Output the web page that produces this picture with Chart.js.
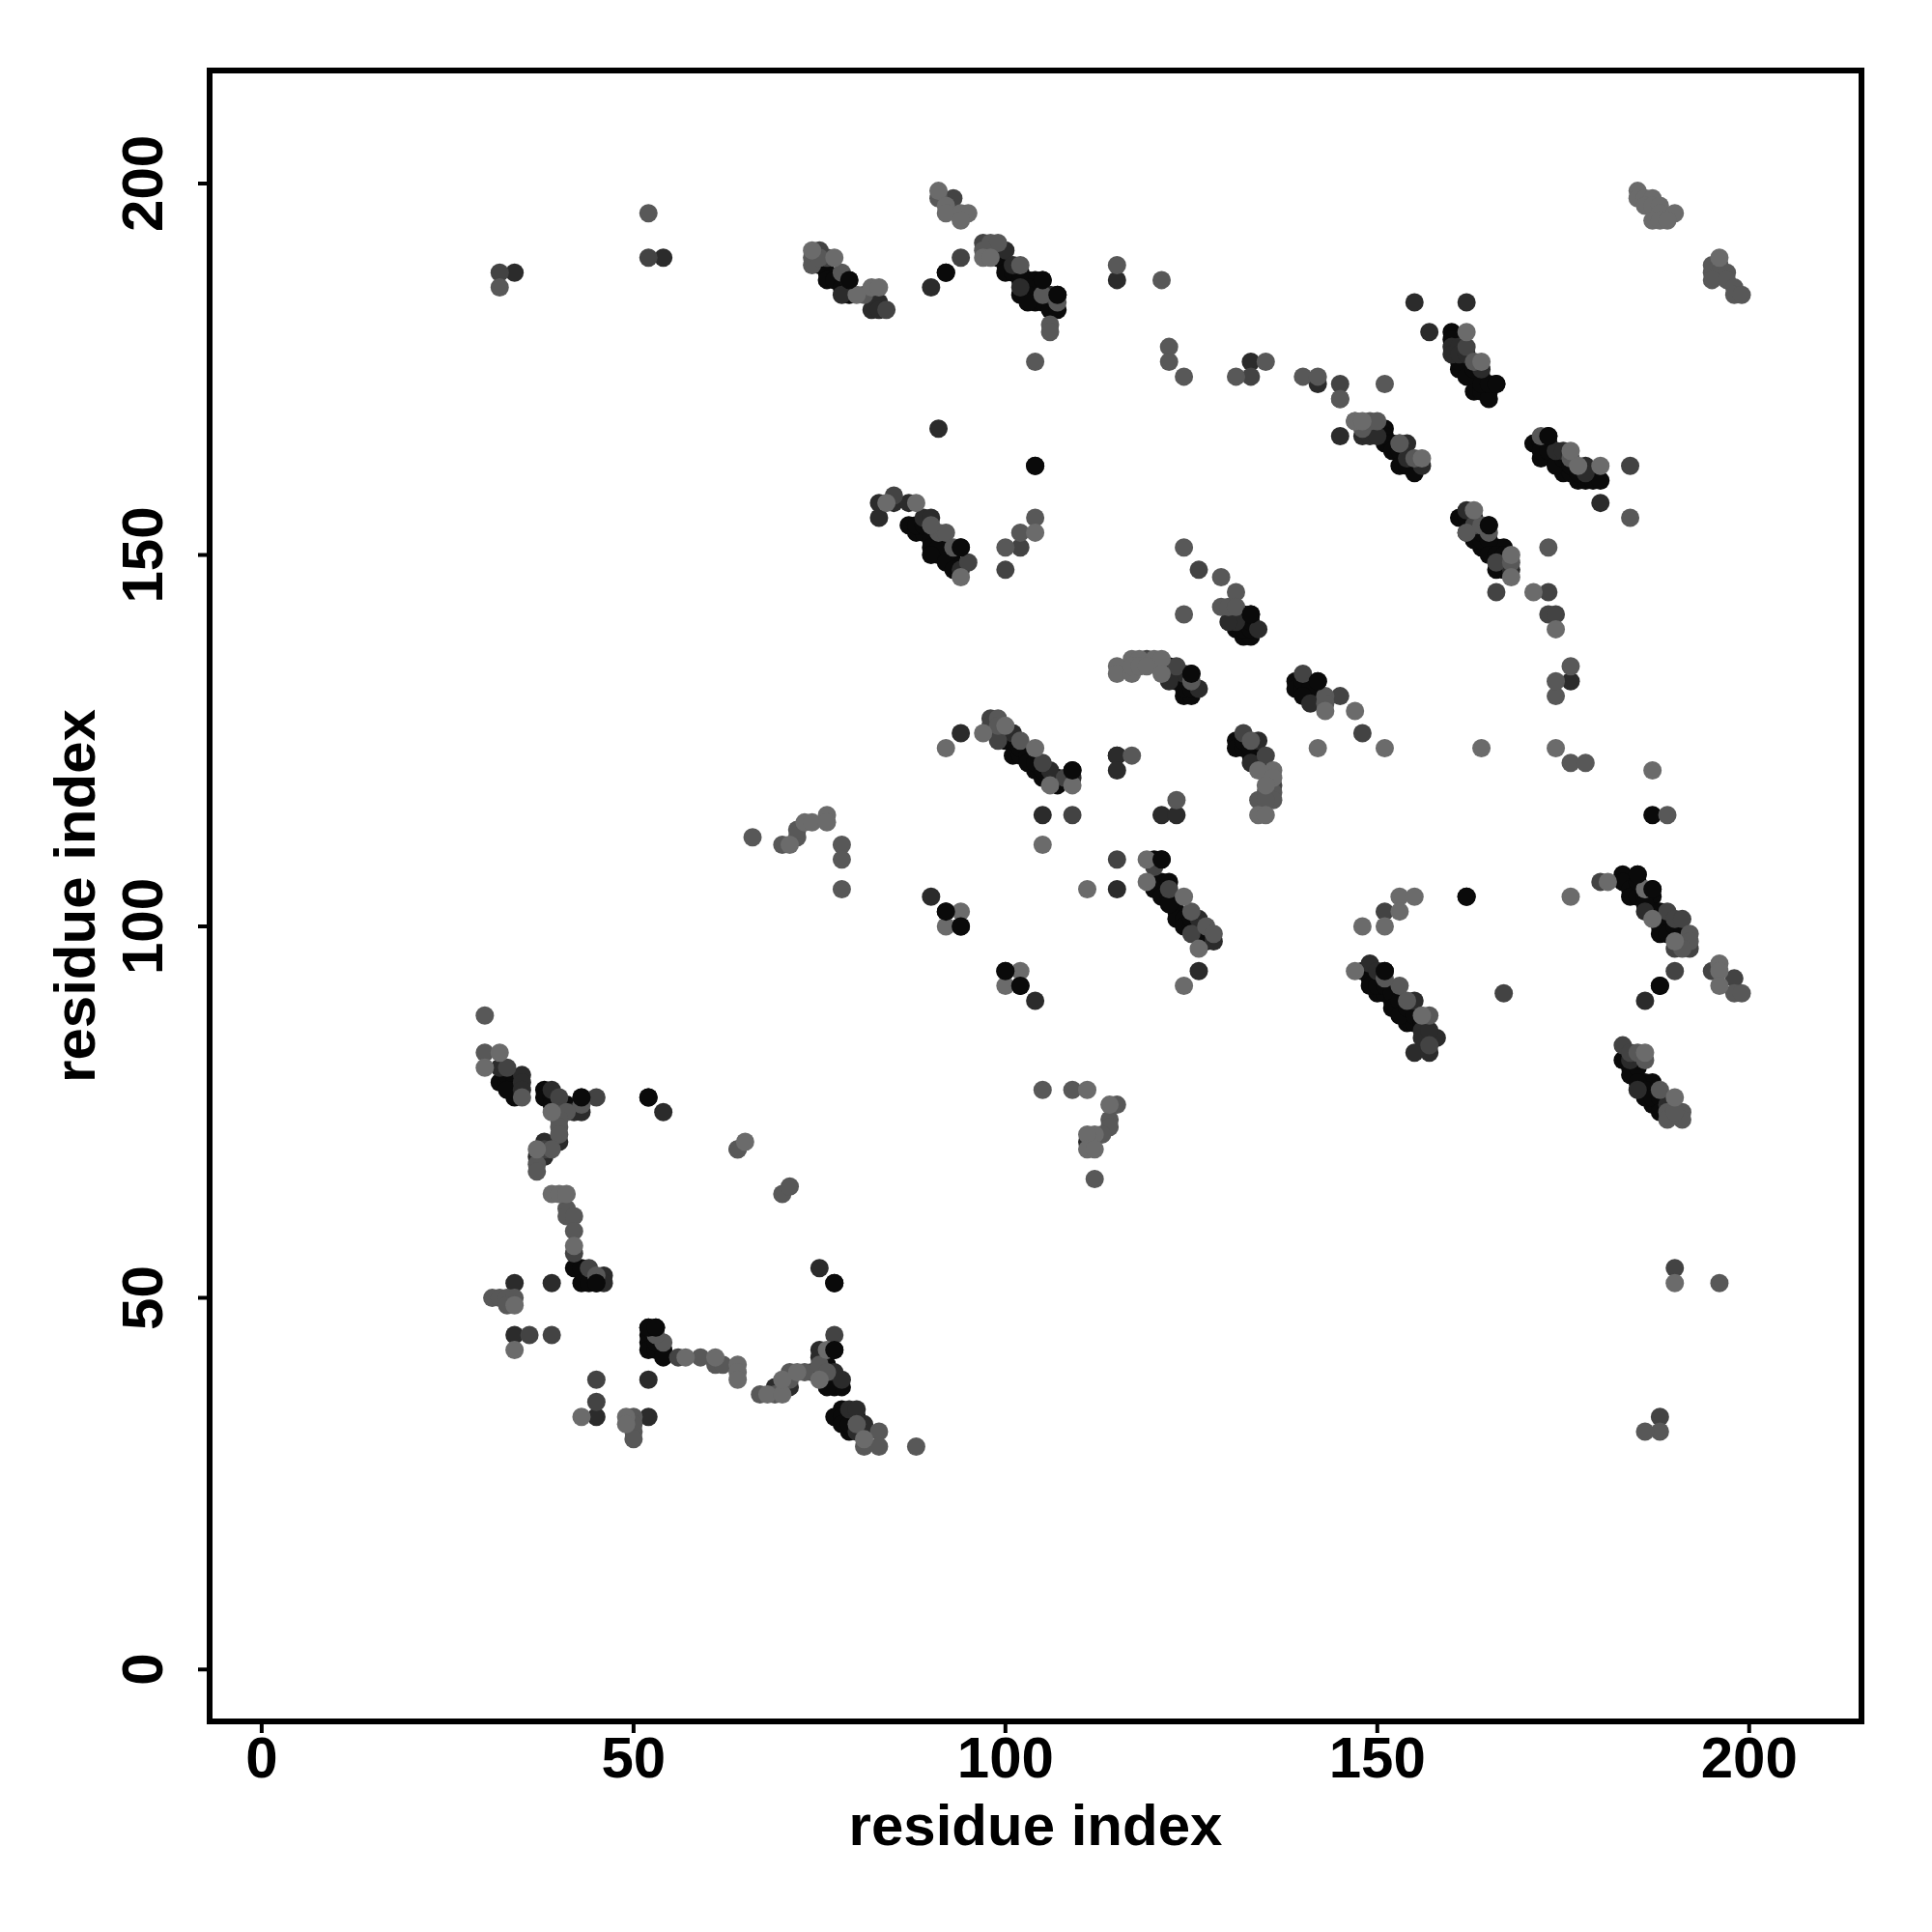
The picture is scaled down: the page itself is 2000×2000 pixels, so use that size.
<!DOCTYPE html>
<html><head><meta charset="utf-8">
<style>html,body{margin:0;padding:0;background:#fff}canvas{display:block}</style>
<script src="https://cdn.jsdelivr.net/npm/chart.js@4"></script></head>
<body><canvas id="c" width="2000" height="2000"></canvas>
<script>
const axisTitle = "residue index";
const tickValues = [0,50,100,150,200];
const blackPts = [[32,79],[33,79],[34,77],[38,78],[38,77],[40,75],[42,54],[43,54],[43,52],[44,52],[45,52],[52,77],[52,46],[53,46],[52,45],[52,44],[52,43],[53,43],[54,43],[54,42],[53,44],[77,39],[77,38],[78,38],[78,35],[77,34],[78,34],[79,34],[79,32],[81,32],[77,43],[77,52],[75,189],[76,188],[76,187],[77,187],[78,186],[79,185],[92,188],[99,190],[100,189],[100,188],[101,188],[102,187],[103,187],[104,187],[105,187],[104,186],[104,185],[104,184],[105,184],[107,185],[106,183],[107,183],[160,180],[160,179],[161,175],[162,175],[163,174],[164,174],[163,172],[164,172],[165,172],[165,171],[166,173],[151,167],[151,166],[151,165],[152,165],[152,164],[153,164],[153,162],[154,162],[155,161],[171,165],[173,166],[172,165],[173,165],[172,163],[174,163],[175,162],[175,161],[177,160],[178,160],[179,160],[180,160],[161,155],[162,155],[162,153],[163,153],[165,154],[164,151],[165,151],[166,151],[167,151],[166,148],[104,162],[87,154],[88,153],[89,153],[91,150],[92,150],[93,149],[94,151],[122,135],[122,134],[123,133],[124,131],[125,131],[139,133],[139,132],[140,132],[141,131],[142,133],[142,131],[131,125],[131,124],[132,124],[133,123],[134,122],[132,142],[133,142],[132,139],[133,139],[99,126],[100,125],[101,123],[102,123],[104,121],[106,120],[105,120],[109,121],[115,123],[120,106],[121,106],[120,105],[121,104],[121,109],[120,109],[123,102],[123,101],[124,101],[126,99],[148,94],[151,94],[150,91],[151,91],[153,89],[154,87],[155,87],[152,90],[183,107],[185,107],[183,106],[184,105],[184,104],[185,104],[187,105],[187,104],[187,102],[188,100],[189,100],[183,82],[185,82],[186,79],[187,79],[187,76],[188,76],[162,104],[187,115],[188,92],[92,102],[94,100],[100,94],[102,92]];
const blackCore = [[88,154],[89,154],[90,152],[91,152],[90,151],[91,151],[90,150],[92,149],[93,148],[102,188],[103,186],[103,185],[102,185],[103,184],[161,176],[162,174],[163,175],[164,173],[165,173],[122,104],[122,103],[124,100],[125,100],[125,101],[126,100],[127,99],[127,98],[122,106],[185,106],[186,104],[186,103],[188,102],[188,101],[189,101],[188,99],[189,99],[190,100],[191,99],[100,126],[101,125],[102,124],[103,123],[103,122],[104,122],[105,121],[107,120],[107,119],[149,93],[150,93],[149,92],[150,92],[151,92],[152,91],[152,89],[153,90],[153,88],[154,89],[155,88],[156,87],[184,81],[184,80],[185,81],[185,79],[186,78],[186,77],[187,77],[188,77],[188,75],[33,80],[34,79],[34,78],[33,78],[39,77],[39,76],[40,76],[41,76],[140,133],[141,132],[140,131],[132,125],[133,124],[134,123],[172,164],[173,164],[174,162],[175,163],[176,161],[176,162],[177,161],[163,155],[163,152],[164,152],[164,153],[165,152],[165,150],[166,150],[167,150],[167,148],[123,134],[124,132],[125,132],[131,142],[131,140],[132,140],[132,141],[133,140],[133,141],[76,41],[76,39],[76,38],[78,33],[79,33],[80,34]];
const darkPts = [[32,81],[35,80],[35,79],[35,78],[39,78],[42,75],[43,75],[43,77],[40,71],[38,71],[37,69],[38,69],[46,53],[46,52],[34,52],[39,52],[54,75],[34,45],[52,39],[45,34],[52,34],[75,43],[75,42],[75,40],[77,40],[78,39],[69,38],[71,38],[70,38],[79,35],[80,35],[81,33],[80,32],[75,54],[83,184],[82,183],[83,183],[79,187],[78,185],[90,186],[100,191],[101,189],[102,186],[106,185],[115,187],[34,188],[54,190],[133,176],[142,173],[155,184],[162,184],[157,180],[160,178],[160,177],[161,178],[161,177],[162,177],[164,175],[148,166],[149,166],[150,166],[154,165],[154,163],[156,162],[174,164],[175,164],[178,162],[178,161],[180,157],[145,166],[91,167],[162,156],[168,148],[83,157],[85,157],[83,155],[87,157],[89,155],[90,155],[94,148],[176,133],[115,123],[115,121],[121,115],[123,115],[124,134],[125,134],[122,133],[126,132],[141,130],[134,125],[133,122],[131,141],[130,141],[134,140],[94,126],[101,126],[106,121],[109,120],[105,115],[126,101],[128,98],[126,94],[149,95],[150,94],[155,90],[155,83],[157,83],[157,85],[158,85],[156,86],[156,85],[157,86],[186,102],[184,82],[186,90],[185,78],[189,76],[90,104],[104,90],[115,105],[111,71]];
const midPts = [[33,81],[40,77],[45,77],[40,75],[38,70],[64,70],[42,56],[44,54],[45,39],[36,45],[39,45],[45,36],[56,42],[74,40],[77,45],[75,191],[76,190],[84,183],[94,190],[93,198],[97,192],[32,188],[52,190],[133,174],[145,173],[145,171],[162,178],[184,162],[147,168],[163,154],[153,165],[166,149],[166,145],[173,145],[85,158],[95,149],[100,148],[102,151],[123,135],[119,136],[140,134],[145,131],[132,126],[135,123],[148,126],[136,119],[98,128],[98,127],[99,125],[105,122],[108,120],[109,115],[120,108],[122,105],[125,99],[151,102],[157,84],[183,84],[184,83],[189,102],[190,101],[191,101],[192,97],[190,97],[190,94],[195,94],[198,93],[190,54],[188,34],[167,91],[180,106],[115,109],[173,142],[174,142],[126,148]];
const grayPts = [[30,88],[30,83],[35,77],[43,76],[41,75],[40,74],[40,73],[40,72],[39,70],[37,68],[37,67],[41,62],[41,61],[42,61],[42,59],[45,53],[31,50],[32,50],[33,50],[34,50],[33,49],[50,34],[50,33],[50,32],[50,31],[54,44],[53,45],[59,42],[61,41],[62,41],[67,37],[69,37],[71,39],[71,40],[73,40],[75,41],[76,40],[80,33],[83,32],[81,30],[83,30],[88,30],[74,190],[74,189],[75,190],[78,188],[81,185],[91,198],[98,192],[99,192],[97,191],[102,189],[105,185],[107,184],[106,181],[106,180],[104,176],[115,189],[32,186],[52,196],[121,187],[122,178],[122,176],[124,174],[131,174],[135,176],[140,174],[142,174],[151,173],[145,171],[155,163],[153,165],[148,167],[149,168],[150,168],[172,166],[176,163],[163,176],[162,153],[164,154],[165,153],[168,149],[173,151],[184,155],[176,135],[174,131],[174,133],[104,155],[102,153],[100,151],[91,153],[92,153],[93,151],[90,154],[125,133],[117,123],[123,117],[143,131],[143,130],[133,125],[136,118],[134,117],[135,118],[136,117],[135,117],[99,128],[99,127],[102,125],[124,142],[129,143],[130,143],[131,145],[129,147],[124,151],[131,143],[125,102],[127,100],[128,99],[153,92],[151,93],[154,90],[157,88],[185,83],[186,82],[188,78],[192,99],[192,98],[191,97],[198,91],[199,91],[195,189],[196,189],[195,188],[196,188],[197,188],[195,187],[197,187],[198,186],[198,185],[199,185],[189,75],[189,74],[191,75],[191,74],[190,75],[176,122],[178,122],[189,115],[196,52],[188,32],[186,32],[105,78],[109,78],[112,66],[114,74],[114,73],[113,72],[115,76],[66,112],[70,111],[72,112],[72,113],[78,111],[78,109],[78,105],[70,64],[64,70],[71,65]];
const lightPts = [[30,81],[32,83],[39,75],[37,70],[65,71],[39,64],[40,64],[41,64],[42,57],[34,49],[34,43],[43,34],[49,34],[49,33],[57,42],[61,42],[64,41],[64,40],[64,39],[68,37],[70,37],[70,39],[72,40],[76,43],[75,39],[81,31],[74,191],[77,190],[80,185],[82,186],[83,186],[91,199],[92,197],[92,196],[94,196],[95,196],[94,195],[97,190],[98,190],[162,180],[164,176],[147,168],[148,168],[156,163],[176,164],[177,162],[180,162],[163,156],[168,150],[168,147],[171,145],[174,140],[88,157],[94,147],[104,153],[84,157],[115,135],[115,134],[117,136],[118,136],[120,136],[121,136],[117,134],[117,135],[118,135],[119,135],[121,134],[143,129],[147,129],[142,124],[151,124],[164,124],[174,124],[187,121],[134,121],[136,121],[136,120],[135,119],[134,115],[135,115],[92,124],[97,126],[100,127],[104,124],[106,119],[109,119],[105,111],[119,109],[119,106],[124,104],[126,97],[124,92],[147,94],[153,104],[155,104],[153,102],[148,100],[151,100],[156,88],[176,104],[181,106],[186,105],[186,83],[187,101],[190,98],[190,77],[196,95],[196,94],[196,92],[190,52],[185,199],[185,198],[186,198],[187,198],[186,197],[187,197],[188,197],[188,196],[190,196],[187,195],[188,195],[189,195],[196,190],[102,94],[100,92],[94,102],[92,100],[111,105],[111,78],[114,76],[112,72],[111,72],[111,70],[112,70],[71,111],[73,114],[74,114],[76,115],[76,114]];
const shades = ["#0a0a0a","#2b2b2b","#434343","#585858","#6b6b6b"];
const series = [blackPts.concat(blackCore),darkPts,midPts,grayPts,lightPts];
const topBlack = [[45,52],[43,77],[77,43],[77,52],[79,187],[105,187],[107,185],[166,173],[173,166],[142,133],[165,154],[94,151],[109,121],[133,142],[125,134],[185,107],[187,105],[121,109],[151,94],[52,46],[53,46],[52,77],[162,104],[188,92],[104,162],[92,102],[94,100],[100,94],[102,92],[92,188]];
const toXY = a => a.map(p => ({x:p[0],y:p[1]}));
const R = 9.5;
const datasets = series.map((s,i) => ({data:toXY(s),backgroundColor:shades[i],borderWidth:0,pointRadius:R,pointHoverRadius:R,order:-i}));
datasets.push({data:toXY(topBlack),backgroundColor:shades[0],borderWidth:0,pointRadius:R,pointHoverRadius:R,order:-9});
const keepTicks = ax => { ax.ticks = tickValues.map(v => ({value:v})); };
const bold = {family:'"Liberation Sans"',weight:'bold',size:60};
new Chart(document.getElementById('c'),{
 type:'scatter',
 data:{datasets},
 options:{
  responsive:false,animation:false,
  layout:{padding:{top:73,right:73,left:0,bottom:0}},
  plugins:{legend:{display:false},tooltip:{enabled:false},title:{display:false}},
  scales:{
   x:{type:'linear',min:-7,max:215.1,
     grid:{display:false,drawTicks:false},
     border:{display:false},
     afterBuildTicks:keepTicks,
     afterFit:ax=>{ax.height=218;},
     ticks:{color:'#000',font:bold,autoSkip:false,maxRotation:0,minRotation:0,padding:5},
     title:{display:true,text:axisTitle,color:'#000',font:bold,padding:{top:0,bottom:71}}},
   y:{type:'linear',min:-7,max:215.2,
     grid:{display:false,drawTicks:false},
     border:{display:false},
     afterBuildTicks:keepTicks,
     afterFit:ax=>{ax.width=217;},
     ticks:{color:'#000',font:bold,autoSkip:false,maxRotation:90,minRotation:90,crossAlign:'center',padding:15},
     title:{display:true,text:axisTitle,color:'#000',font:bold,padding:{top:45,bottom:0}}}
  }
 },
 plugins:[{id:'frame',afterDraw(chart){
   const a=chart.chartArea,c=chart.ctx,xs=chart.scales.x,ys=chart.scales.y;
   c.save();c.strokeStyle='#000';c.lineWidth=6;c.strokeRect(a.left,a.top,a.right-a.left,a.bottom-a.top);
   c.lineWidth=4;c.beginPath();
   tickValues.forEach(v=>{const px=xs.getPixelForValue(v);c.moveTo(px,a.bottom);c.lineTo(px,a.bottom+12);
     const py=ys.getPixelForValue(v);c.moveTo(a.left,py);c.lineTo(a.left-12,py);});
   c.stroke();c.restore();
 }}]
});
</script></body></html>
